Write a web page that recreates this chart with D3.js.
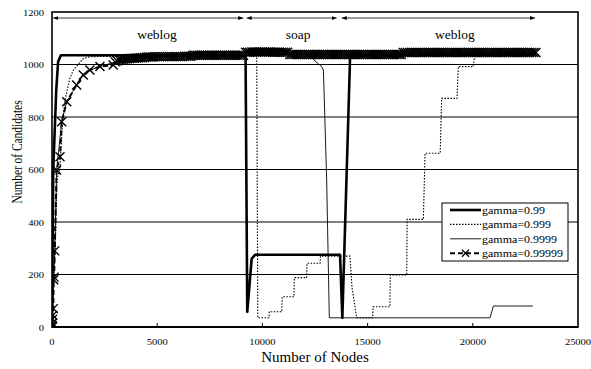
<!DOCTYPE html>
<html>
<head>
<meta charset="utf-8">
<script src="https://cdn.jsdelivr.net/npm/d3@7"></script>
<style>
  body { margin: 0; background: #fff; }
</style>
</head>
<body>
<div id="chart"></div>
<script>
// axis ticks
const nodeTicks = [0, 5000, 10000, 15000, 20000, 25000];
const candTicks = [0, 200, 400, 600, 800, 1000, 1200];

// series as [nodes, candidates]
const gamma099 = [[0,0],[60,600],[200,900],[290,1010],[420,1035],[9200,1035],[9280,58],[9490,260],[9650,275],
  [13690,275],[13800,35],[14170,1035],[23000,1040]];

const gamma0999 = [[0,0],[150,300],[240,560],[380,610],[500,780],[620,865],[850,948],[1015,979],[1490,1023],[1800,1030],
  [9730,1035],[9780,35],[10310,35],[10330,58],[10920,58],[10940,115],[11500,115],[11520,188],[12100,188],[12120,243],
  [12740,243],[12760,270],[14160,270],[14260,150],[14480,35],[15240,35],[15260,77],[16060,77],[16080,198],[16860,198],
  [16880,410],[17650,410],[17730,662],[18450,662],[18520,871],[19250,871],[19310,992],[20020,992],[20100,1040],[23000,1040]];

const gamma09999 = [[0,0],[130,290],[220,598],[460,782],[700,858],[1170,922],[1490,960],[1800,979],[2280,992],
  [3000,1010],[4500,1028],[9000,1036],[12420,1040],[12450,1017],[12820,992],[12900,979],[13055,560],[13180,35],
  [20820,35],[20980,80],[22850,80]];

// gamma=0.99999: first samples, then one sample every 100 nodes from 3000 to 23000
const gamma099999Start = [[0,0],[10,5],[20,15],[30,30],[40,45],[60,70],[80,180],[100,190],[130,290],[220,598],
  [380,649],[460,782],[700,858],[1170,922],[1490,960],[1800,979],[2280,992],[2910,998]];
const sampleFrom = 3000, sampleStep = 100;
const gamma099999Levels = [
  1010,1013,1017,1018,1020,1021,1022,1023,1024,1024,1025,1025,1026,1026,1027,
  1029,1029,1029,1029,1030,1030,1030,1030,1030,1030,1030,1030,1030,1030,1030,1030,1030,1030,1031,1031,1031,1031,
  1035,1035,1035,1035,1035,1035,1035,1035,1035,1035,1035,1035,1035,1035,1035,1035,1035,1035,1035,1035,1035,1035,1035,1035,1035,
  1047,1047,1047,1048,1048,1048,1048,1048,1048,1048,1048,1048,1048,1047,1047,1047,1047,1047,1047,1047,1047,
  1038,1038,1038,1038,1038,1038,1038,1038,1038,1038,
  1038,1038,1038,1038,1038,1038,1038,1038,1038,1038,
  1038,1038,1038,1038,1038,1038,1038,1038,1038,1038,
  1038,1038,1038,1038,1038,1038,1038,1038,1038,1038,
  1038,1038,1038,1038,1038,1038,1038,1038,1038,1038,
  1038,1038,1038,1038,
  1046,1046,1046,1046,1046,1046,1046,1046,1046,1046,
  1046,1046,1046,1046,1046,1046,1046,1046,1046,1046,
  1046,1046,1046,1046,1046,1046,1046,1046,1046,1046,
  1046,1046,1046,1046,1046,1046,1046,1046,1046,1046,
  1046,1046,1046,1046,1046,1046,1046,1046,1046,1046,
  1046,1046,1046,1046,1046,1046,1046,1046,1046,1046,
  1046,1046,1046,1046
];

// phase annotations
const phases = [
  {label: "weblog", from: 60, to: 9090, mid: 4990},
  {label: "soap", from: 9250, to: 13530, mid: 11700},
  {label: "weblog", from: 13770, to: 22960, mid: 19150}
];
const arrowLevel = 1177, phaseLabelLevel = 1097;

const legendNames = ["gamma=0.99", "gamma=0.999", "gamma=0.9999", "gamma=0.99999"];

const serif = "'Liberation Serif', 'Times New Roman', Tinos, 'DejaVu Serif', serif";
const width = 591, height = 369;
const x = d3.scaleLinear().domain([0, 25000]).range([52, 578]);
const y = d3.scaleLinear().domain([0, 1200]).range([327, 12]);

const svg = d3.select("#chart").append("svg")
  .attr("width", width).attr("height", height)
  .attr("viewBox", [0, 0, width, height])
  .style("display", "block");

const defs = svg.append("defs");
defs.append("clipPath").attr("id", "plot")
  .append("rect").attr("x", 52).attr("y", 12).attr("width", 526).attr("height", 315);
["start", "end"].forEach(k => {
  defs.append("marker").attr("id", "arr-" + k)
    .attr("viewBox", "0 0 10 10").attr("refX", 10).attr("refY", 5)
    .attr("markerWidth", 5).attr("markerHeight", 5)
    .attr("orient", k === "end" ? "auto" : "auto-start-reverse")
    .attr("markerUnits", "userSpaceOnUse")
    .append("path").attr("d", "M0,1L10,5L0,9Z").attr("fill", "#000");
});

// squashed text, like the original export
function label(g, px, py, str, size, anchor, sy) {
  return g.append("text")
    .attr("transform", `translate(${px},${py}) scale(1,${sy})`)
    .attr("font-family", serif)
    .attr("font-size", size)
    .attr("text-anchor", anchor)
    .attr("fill", "#000")
    .text(str);
}

// grid
svg.append("g").selectAll("line")
  .data(candTicks.filter(d => d > 0 && d < 1200))
  .join("line")
  .attr("x1", x(0)).attr("x2", x(25000))
  .attr("y1", d => y(d)).attr("y2", d => y(d))
  .attr("stroke", "#000").attr("stroke-width", 1);

// axes tick labels
const yl = svg.append("g");
candTicks.forEach(t => label(yl, 44, y(t) + 3.5, t, 10.5, "end", 0.85));
const xl = svg.append("g");
nodeTicks.forEach(t => label(xl, x(t), 345, t, 10.5, "middle", 0.85));
svg.append("g").selectAll("line")
  .data(nodeTicks.slice(1, -1))
  .join("line")
  .attr("x1", d => x(d)).attr("x2", d => x(d))
  .attr("y1", y(0)).attr("y2", y(0) - 4)
  .attr("stroke", "#000");

label(svg, 315, 362, "Number of Nodes", 15, "middle", 1);
svg.append("text")
  .attr("transform", `translate(22,152) scale(1,0.76) rotate(-90)`)
  .attr("font-family", serif)
  .attr("font-size", 15).attr("text-anchor", "middle")
  .text("Number of Candidates");

// phase arrows
const ph = svg.append("g");
phases.forEach(p => {
  ph.append("line")
    .attr("x1", x(p.from)).attr("x2", x(p.to))
    .attr("y1", y(arrowLevel)).attr("y2", y(arrowLevel))
    .attr("stroke", "#000").attr("stroke-width", 0.8)
    .attr("marker-start", "url(#arr-start)")
    .attr("marker-end", "url(#arr-end)");
  label(ph, x(p.mid), y(phaseLabelLevel), p.label, 13.5, "middle", 0.85);
});

// series
const line = d3.line().x(d => x(d[0])).y(d => y(d[1]));
const plot = svg.append("g").attr("clip-path", "url(#plot)");

const crossPts = gamma099999Start.concat(
  gamma099999Levels.map((v, i) => [sampleFrom + i * sampleStep, v]));

plot.append("path").attr("d", line(gamma09999))
  .attr("fill", "none").attr("stroke", "#000").attr("stroke-width", 0.9);
plot.append("path").attr("d", line(gamma0999))
  .attr("fill", "none").attr("stroke", "#000").attr("stroke-width", 1.1)
  .attr("stroke-dasharray", "1.5,1.5");
plot.append("path").attr("d", line(crossPts))
  .attr("fill", "none").attr("stroke", "#000").attr("stroke-width", 2)
  .attr("stroke-dasharray", "5,3");
const cross = "M-4.5,-4.5L4.5,4.5M-4.5,4.5L4.5,-4.5";
plot.append("g").selectAll("path")
  .data(crossPts)
  .join("path")
  .attr("transform", d => `translate(${x(d[0])},${y(d[1])})`)
  .attr("d", cross)
  .attr("stroke", "#000").attr("stroke-width", 1.4).attr("fill", "none");
plot.append("path").attr("d", line(gamma099))
  .attr("fill", "none").attr("stroke", "#000").attr("stroke-width", 2.6)
  .attr("stroke-linejoin", "round");

// frame
svg.append("rect").attr("x", 52).attr("y", 12).attr("width", 526).attr("height", 315)
  .attr("fill", "none").attr("stroke", "#000").attr("stroke-width", 1.6);
svg.append("line").attr("x1", 52).attr("x2", 578).attr("y1", 327).attr("y2", 327)
  .attr("stroke", "#000").attr("stroke-width", 2.2);

// legend
const lg = svg.append("g");
lg.append("rect").attr("x", 442).attr("y", 203).attr("width", 126).attr("height", 58)
  .attr("fill", "#fff").attr("stroke", "#000").attr("stroke-width", 1);
const legendStyle = [
  {w: 2.6, dash: null, mark: false},
  {w: 1.1, dash: "1.5,1.5", mark: false},
  {w: 0.9, dash: null, mark: false},
  {w: 2, dash: "5,3", mark: true}
];
const legendCross = "M-3.5,-3.5L3.5,3.5M-3.5,3.5L3.5,-3.5";
legendNames.forEach((n, i) => {
  const ry = 210 + i * 14.4;
  const s = legendStyle[i];
  lg.append("line").attr("x1", 450).attr("x2", 481).attr("y1", ry).attr("y2", ry)
    .attr("stroke", "#000").attr("stroke-width", s.w)
    .attr("stroke-dasharray", s.dash);
  if (s.mark) {
    lg.append("path").attr("transform", `translate(465.5,${ry})`).attr("d", legendCross)
      .attr("stroke", "#000").attr("stroke-width", 1.3).attr("fill", "none");
  }
  label(lg, 482, ry + 4, n, 12, "start", 0.85);
});
</script>
</body>
</html>
